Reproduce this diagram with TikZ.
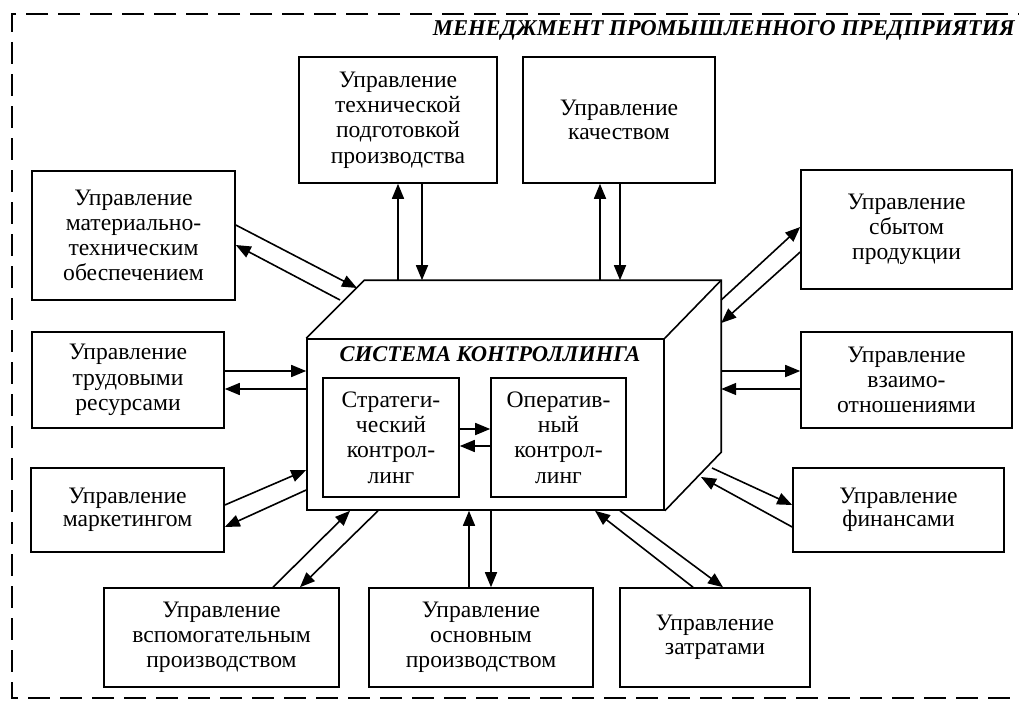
\documentclass[tikz,border=0pt]{standalone}
\usepackage{fontspec}
\setmainfont{Liberation Serif}
\usetikzlibrary{arrows.meta}
\newcommand{\bx}[7][]{\node[box,#1,minimum width={#5-#3},minimum height={#6-#4}] (#2) at ({(#3+#5)/2},{(#4+#6)/2}) {#7};}
\begin{document}
\begin{tikzpicture}[x=1pt,y=-1pt,
  box/.style={draw,line width=1.6pt,inner sep=0pt,align=center,font=\fontsize{23.6}{25.2}\selectfont},
  mid/.style={font=\fontsize{23.6}{23.5}\selectfont},
  arr/.style={line width=1.6pt,-{Triangle[length=15pt,width=12pt]}},
  edge/.style={line width=1.6pt,line join=miter}]
\clip (0,0) rectangle (1019,709);
\fill[white] (0,0) rectangle (1019,709);
% outer dashed frame
\draw[line width=2pt,dash pattern=on 22pt off 10pt] (1040,14) -- (12,14) -- (12,698) -- (1040,698);
\node[anchor=base east,inner sep=0pt,font=\fontsize{22.6}{26}\selectfont\bfseries\itshape] (title) at (1015,36) {МЕНЕДЖМЕНТ ПРОМЫШЛЕННОГО ПРЕДПРИЯТИЯ};
% cube
\bx{cube}{307}{339}{664}{510}{}
\draw[edge] (cube.north west) -- ++(58,-58) coordinate (cbl) -- ++(357,0) coordinate (cbr) -- ++(0,172) coordinate (cbb) -- (cube.south east);
\draw[edge] (cube.north east) -- (cbr);
\node[anchor=base,inner sep=0pt,font=\fontsize{22.5}{26}\selectfont\bfseries\itshape] (cst) at (490,361) {СИСТЕМА КОНТРОЛЛИНГА};
\bx{strat}{323}{378}{459}{497}{Стратеги-\\ческий\\контрол-\\линг}
\bx{oper}{491}{378}{626}{497}{Оператив-\\ный\\контрол-\\линг}
% outer boxes
\bx{tp}{299}{57}{497}{183}{Управление\\технической\\подготовкой\\производства}
\bx[mid]{q}{523}{57}{715}{183}{Управление\\качеством}
\bx{mat}{32}{171}{235}{300}{Управление\\материально-\\техническим\\обеспечением}
\bx{sales}{801}{170}{1012}{289}{Управление\\сбытом\\продукции}
\bx{lab}{32}{332}{224}{428}{Управление\\трудовыми\\ресурсами}
\bx{rel}{801}{332}{1012}{428}{Управление\\взаимо-\\отношениями}
\bx[mid]{mkt}{31}{468}{224}{552}{Управление\\маркетингом}
\bx[mid]{fin}{793}{468}{1004}{552}{Управление\\финансами}
\bx{aux}{104}{588}{339}{687}{Управление\\вспомогательным\\производством}
\bx{mainp}{369}{588}{593}{687}{Управление\\основным\\производством}
\bx[mid]{cost}{620}{588}{810}{687}{Управление\\затратами}
% connectors
\draw[arr] (cbl -| 398,0) -- (tp.south -| 398,0);
\draw[arr] (tp.south -| 422,0) -- (cbl -| 422,0);
\draw[arr] (cbl -| 600,0) -- (q.south -| 600,0);
\draw[arr] (q.south -| 620,0) -- (cbl -| 620,0);
\coordinate (m1) at (357,288); \coordinate (m2) at (340,300);
\draw[arr] (mat.east |- 0,225) -- (m1);
\draw[arr] (m2) -- (mat.east |- 0,245);
\draw[arr] (lab.east |- 0,371) -- (cube.west |- 0,371);
\draw[arr] (cube.west |- 0,389) -- (lab.east |- 0,389);
\draw[arr] (mkt.east |- 0,505) -- (cube.west |- 0,470);
\draw[arr] (cube.west |- 0,490) -- (mkt.east |- 0,527);
\draw[arr] (aux.north -| 273,0) -- (cube.south -| 350,0);
\draw[arr] (cube.south -| 378,0) -- (aux.north -| 300,0);
\draw[arr] (mainp.north -| 469,0) -- (cube.south -| 469,0);
\draw[arr] (cube.south -| 491,0) -- (mainp.north -| 491,0);
\draw[arr] (cost.north -| 693,0) -- (cube.south -| 595,0);
\draw[arr] (cube.south -| 620,0) -- (cost.north -| 723,0);
\coordinate (f1) at (712,468); \coordinate (f2) at (701,477);
\draw[arr] (f1) -- (fin.west |- 0,505);
\draw[arr] (fin.west |- 0,527) -- (f2);
\draw[arr] (cbr |- 0,371) -- (rel.west |- 0,371);
\draw[arr] (rel.west |- 0,389) -- (cbr |- 0,389);
\draw[arr] (cbr |- 0,300) -- (sales.west |- 0,227);
\draw[arr] (sales.west |- 0,252) -- (cbr |- 0,323);
\draw[arr] (strat.east |- 0,429) -- (oper.west |- 0,429);
\draw[arr] (oper.west |- 0,446) -- (strat.east |- 0,446);
\end{tikzpicture}
\end{document}
